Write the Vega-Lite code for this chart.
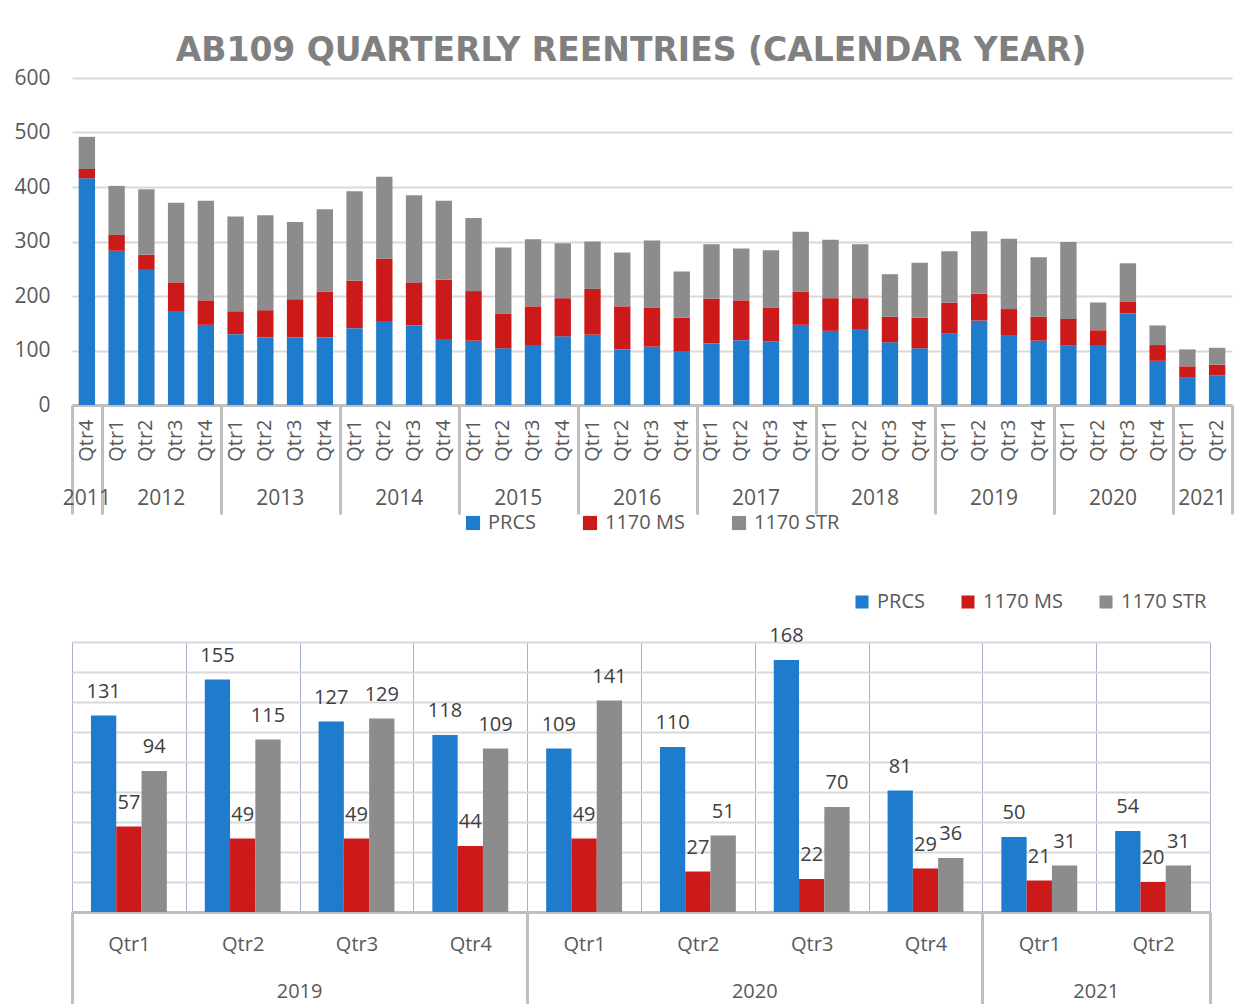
{
  "$schema": "https://vega.github.io/schema/vega-lite/v6.json",
  "background": "white",
  "padding": {"left": 13, "top": 35, "right": 5, "bottom": 0},
  "spacing": 59,
  "config": {
    "font": "Open Sans",
    "view": {"stroke": null},
    "axis": {"labelFont": "Open Sans", "labelColor": "#595959", "title": null}
  },
  "datasets": {
    "series": [
      {"s": "PRCS", "k": 1}, {"s": "1170 MS", "k": 2}, {"s": "1170 STR", "k": 3}
    ],
    "quarters": [
      {"q": "2011 Qtr4", "s": "PRCS", "v": 416}, {"q": "2011 Qtr4", "s": "1170 MS", "v": 17}, {"q": "2011 Qtr4", "s": "1170 STR", "v": 59},
      {"q": "2012 Qtr1", "s": "PRCS", "v": 283}, {"q": "2012 Qtr1", "s": "1170 MS", "v": 29}, {"q": "2012 Qtr1", "s": "1170 STR", "v": 90},
      {"q": "2012 Qtr2", "s": "PRCS", "v": 248}, {"q": "2012 Qtr2", "s": "1170 MS", "v": 28}, {"q": "2012 Qtr2", "s": "1170 STR", "v": 120},
      {"q": "2012 Qtr3", "s": "PRCS", "v": 171}, {"q": "2012 Qtr3", "s": "1170 MS", "v": 54}, {"q": "2012 Qtr3", "s": "1170 STR", "v": 146},
      {"q": "2012 Qtr4", "s": "PRCS", "v": 147}, {"q": "2012 Qtr4", "s": "1170 MS", "v": 45}, {"q": "2012 Qtr4", "s": "1170 STR", "v": 183},
      {"q": "2013 Qtr1", "s": "PRCS", "v": 130}, {"q": "2013 Qtr1", "s": "1170 MS", "v": 42}, {"q": "2013 Qtr1", "s": "1170 STR", "v": 174},
      {"q": "2013 Qtr2", "s": "PRCS", "v": 124}, {"q": "2013 Qtr2", "s": "1170 MS", "v": 50}, {"q": "2013 Qtr2", "s": "1170 STR", "v": 174},
      {"q": "2013 Qtr3", "s": "PRCS", "v": 124}, {"q": "2013 Qtr3", "s": "1170 MS", "v": 70}, {"q": "2013 Qtr3", "s": "1170 STR", "v": 142},
      {"q": "2013 Qtr4", "s": "PRCS", "v": 124}, {"q": "2013 Qtr4", "s": "1170 MS", "v": 84}, {"q": "2013 Qtr4", "s": "1170 STR", "v": 151},
      {"q": "2014 Qtr1", "s": "PRCS", "v": 141}, {"q": "2014 Qtr1", "s": "1170 MS", "v": 87}, {"q": "2014 Qtr1", "s": "1170 STR", "v": 164},
      {"q": "2014 Qtr2", "s": "PRCS", "v": 154}, {"q": "2014 Qtr2", "s": "1170 MS", "v": 115}, {"q": "2014 Qtr2", "s": "1170 STR", "v": 150},
      {"q": "2014 Qtr3", "s": "PRCS", "v": 146}, {"q": "2014 Qtr3", "s": "1170 MS", "v": 79}, {"q": "2014 Qtr3", "s": "1170 STR", "v": 160},
      {"q": "2014 Qtr4", "s": "PRCS", "v": 121}, {"q": "2014 Qtr4", "s": "1170 MS", "v": 109}, {"q": "2014 Qtr4", "s": "1170 STR", "v": 145},
      {"q": "2015 Qtr1", "s": "PRCS", "v": 118}, {"q": "2015 Qtr1", "s": "1170 MS", "v": 91}, {"q": "2015 Qtr1", "s": "1170 STR", "v": 134},
      {"q": "2015 Qtr2", "s": "PRCS", "v": 104}, {"q": "2015 Qtr2", "s": "1170 MS", "v": 64}, {"q": "2015 Qtr2", "s": "1170 STR", "v": 121},
      {"q": "2015 Qtr3", "s": "PRCS", "v": 110}, {"q": "2015 Qtr3", "s": "1170 MS", "v": 71}, {"q": "2015 Qtr3", "s": "1170 STR", "v": 123},
      {"q": "2015 Qtr4", "s": "PRCS", "v": 126}, {"q": "2015 Qtr4", "s": "1170 MS", "v": 70}, {"q": "2015 Qtr4", "s": "1170 STR", "v": 101},
      {"q": "2016 Qtr1", "s": "PRCS", "v": 129}, {"q": "2016 Qtr1", "s": "1170 MS", "v": 84}, {"q": "2016 Qtr1", "s": "1170 STR", "v": 87},
      {"q": "2016 Qtr2", "s": "PRCS", "v": 102}, {"q": "2016 Qtr2", "s": "1170 MS", "v": 79}, {"q": "2016 Qtr2", "s": "1170 STR", "v": 99},
      {"q": "2016 Qtr3", "s": "PRCS", "v": 107}, {"q": "2016 Qtr3", "s": "1170 MS", "v": 72}, {"q": "2016 Qtr3", "s": "1170 STR", "v": 123},
      {"q": "2016 Qtr4", "s": "PRCS", "v": 99}, {"q": "2016 Qtr4", "s": "1170 MS", "v": 61}, {"q": "2016 Qtr4", "s": "1170 STR", "v": 85},
      {"q": "2017 Qtr1", "s": "PRCS", "v": 113}, {"q": "2017 Qtr1", "s": "1170 MS", "v": 82}, {"q": "2017 Qtr1", "s": "1170 STR", "v": 100},
      {"q": "2017 Qtr2", "s": "PRCS", "v": 119}, {"q": "2017 Qtr2", "s": "1170 MS", "v": 73}, {"q": "2017 Qtr2", "s": "1170 STR", "v": 95},
      {"q": "2017 Qtr3", "s": "PRCS", "v": 117}, {"q": "2017 Qtr3", "s": "1170 MS", "v": 62}, {"q": "2017 Qtr3", "s": "1170 STR", "v": 105},
      {"q": "2017 Qtr4", "s": "PRCS", "v": 147}, {"q": "2017 Qtr4", "s": "1170 MS", "v": 61}, {"q": "2017 Qtr4", "s": "1170 STR", "v": 110},
      {"q": "2018 Qtr1", "s": "PRCS", "v": 136}, {"q": "2018 Qtr1", "s": "1170 MS", "v": 60}, {"q": "2018 Qtr1", "s": "1170 STR", "v": 107},
      {"q": "2018 Qtr2", "s": "PRCS", "v": 138}, {"q": "2018 Qtr2", "s": "1170 MS", "v": 58}, {"q": "2018 Qtr2", "s": "1170 STR", "v": 99},
      {"q": "2018 Qtr3", "s": "PRCS", "v": 115}, {"q": "2018 Qtr3", "s": "1170 MS", "v": 47}, {"q": "2018 Qtr3", "s": "1170 STR", "v": 78},
      {"q": "2018 Qtr4", "s": "PRCS", "v": 104}, {"q": "2018 Qtr4", "s": "1170 MS", "v": 56}, {"q": "2018 Qtr4", "s": "1170 STR", "v": 101},
      {"q": "2019 Qtr1", "s": "PRCS", "v": 131}, {"q": "2019 Qtr1", "s": "1170 MS", "v": 57}, {"q": "2019 Qtr1", "s": "1170 STR", "v": 94},
      {"q": "2019 Qtr2", "s": "PRCS", "v": 155}, {"q": "2019 Qtr2", "s": "1170 MS", "v": 49}, {"q": "2019 Qtr2", "s": "1170 STR", "v": 115},
      {"q": "2019 Qtr3", "s": "PRCS", "v": 127}, {"q": "2019 Qtr3", "s": "1170 MS", "v": 49}, {"q": "2019 Qtr3", "s": "1170 STR", "v": 129},
      {"q": "2019 Qtr4", "s": "PRCS", "v": 118}, {"q": "2019 Qtr4", "s": "1170 MS", "v": 44}, {"q": "2019 Qtr4", "s": "1170 STR", "v": 109},
      {"q": "2020 Qtr1", "s": "PRCS", "v": 109}, {"q": "2020 Qtr1", "s": "1170 MS", "v": 49}, {"q": "2020 Qtr1", "s": "1170 STR", "v": 141},
      {"q": "2020 Qtr2", "s": "PRCS", "v": 110}, {"q": "2020 Qtr2", "s": "1170 MS", "v": 27}, {"q": "2020 Qtr2", "s": "1170 STR", "v": 51},
      {"q": "2020 Qtr3", "s": "PRCS", "v": 168}, {"q": "2020 Qtr3", "s": "1170 MS", "v": 22}, {"q": "2020 Qtr3", "s": "1170 STR", "v": 70},
      {"q": "2020 Qtr4", "s": "PRCS", "v": 81}, {"q": "2020 Qtr4", "s": "1170 MS", "v": 29}, {"q": "2020 Qtr4", "s": "1170 STR", "v": 36},
      {"q": "2021 Qtr1", "s": "PRCS", "v": 50}, {"q": "2021 Qtr1", "s": "1170 MS", "v": 21}, {"q": "2021 Qtr1", "s": "1170 STR", "v": 31},
      {"q": "2021 Qtr2", "s": "PRCS", "v": 54}, {"q": "2021 Qtr2", "s": "1170 MS", "v": 20}, {"q": "2021 Qtr2", "s": "1170 STR", "v": 31}
    ]
  },
  "resolve": {"scale": {"color": "independent"}, "legend": {"color": "independent"}},
  "vconcat": [
    {
      "width": 1160,
      "height": 327,
      "title": {
        "text": "AB109 QUARTERLY REENTRIES (CALENDAR YEAR)",
        "font": "DejaVu Sans",
        "fontSize": 33,
        "fontWeight": "bold",
        "color": "#808080",
        "anchor": "middle",
        "frame": "group",
        "dx": -21,
        "baseline": "alphabetic",
        "offset": -27
      },
      "data": {"name": "quarters"},
      "transform": [{"lookup": "s", "from": {"data": {"name": "series"}, "key": "s", "fields": ["k"]}}],
      "layer": [
        {
          "mark": {"type": "bar", "width": {"band": 0.55}},
          "encoding": {
            "x": {
              "field": "q", "type": "nominal", "sort": null,
              "scale": {"paddingInner": 0, "paddingOuter": 0},
              "axis": {
                "orient": "bottom",
                "labelExpr": "isString(datum.value) ? substring(datum.value, 5) : ''",
                "labelAngle": -90, "labelAlign": "right", "labelBaseline": "middle",
                "labelPadding": 14, "labelFontSize": 20, "labelOverlap": false,
                "ticks": false, "domainColor": "#bfbfbf", "domainWidth": 3
              }
            },
            "y": {
              "field": "v", "type": "quantitative", "stack": "zero",
              "scale": {"domain": [0, 600]},
              "axis": {
                "values": [0, 100, 200, 300, 400, 500, 600], "tickCount": 20,
                "grid": true, "gridColor": "#d9d9d9", "gridWidth": 2,
                "domain": false, "ticks": false,
                "labelFontSize": 21, "labelPadding": 22
              }
            },
            "order": {"field": "k", "type": "quantitative", "sort": "ascending"},
            "color": {
              "field": "s", "type": "nominal",
              "sort": ["PRCS", "1170 MS", "1170 STR"],
              "scale": {"domain": ["PRCS", "1170 MS", "1170 STR"], "range": ["#1f7ccc", "#cc1a1a", "#8c8c8c"]},
              "legend": {
                "title": null, "orient": "none", "legendX": 391, "legendY": 435,
                "direction": "horizontal", "labelFontSize": 20, "labelColor": "#595959",
                "labelFont": "Open Sans", "symbolType": "square", "symbolSize": 200,
                "symbolStrokeWidth": 0, "columnPadding": 44, "labelOffset": 5
              }
            }
          }
        },
        {
          "mark": {"type": "point", "opacity": 0},
          "encoding": {
            "x": {
              "field": "q", "type": "nominal", "sort": null,
              "axis": {
                "orient": "bottom",
                "labels": false, "domain": false,
                "values": ["2011 Qtr4", "2012 Qtr4", "2013 Qtr4", "2014 Qtr4", "2015 Qtr4", "2016 Qtr4", "2017 Qtr4", "2018 Qtr4", "2019 Qtr4", "2020 Qtr4", "2021 Qtr2"],
                "tickBand": "extent", "tickSize": 109, "tickWidth": 3, "tickColor": "#bfbfbf"
              }
            },
            "y": {"field": "v", "type": "quantitative"}
          }
        },
        {
          "mark": {"type": "point", "opacity": 0},
          "encoding": {
            "x": {
              "field": "q", "type": "nominal", "sort": null,
              "axis": {
                "orient": "bottom",
                "ticks": false, "domain": false, "labelAngle": 0,
                "values": ["2011 Qtr4", "2012 Qtr2", "2013 Qtr2", "2014 Qtr2", "2015 Qtr2", "2016 Qtr2", "2017 Qtr2", "2018 Qtr2", "2019 Qtr2", "2020 Qtr2", "2021 Qtr1"],
                "labelExpr": "isString(datum.value) ? substring(datum.value, 0, 4) : ''",
                "labelOffset": {"condition": {"test": "datum.value == '2011 Qtr4'", "value": 0}, "value": 14.87},
                "labelPadding": 82, "labelFontSize": 21, "labelOverlap": false, "labelBaseline": "top"
              }
            },
            "y": {"field": "v", "type": "quantitative"}
          }
        }
      ],
      "resolve": {"axis": {"x": "independent"}}
    },
    {
      "width": 1138,
      "height": 270,
      "data": {"name": "quarters"},
      "transform": [{"filter": "datum.q >= '2019'"}],
      "layer": [
        {
          "mark": {"type": "bar"},
          "encoding": {
            "x": {
              "field": "q", "type": "nominal", "sort": null,
              "scale": {"paddingInner": 0, "paddingOuter": 0},
              "axis": {
                "orient": "bottom",
                "labelExpr": "isString(datum.value) ? substring(datum.value, 5) : ''",
                "labelAngle": 0,
                "labelPadding": 22, "labelFontSize": 20,
                "ticks": false, "domainColor": "#bfbfbf", "domainWidth": 3,
                "grid": true, "tickBand": "extent", "gridColor": "#a5b3c9", "gridWidth": 1
              }
            },
            "xOffset": {
              "field": "s", "type": "nominal", "sort": ["PRCS", "1170 MS", "1170 STR"],
              "scale": {"paddingInner": 0, "paddingOuter": 0.75}
            },
            "y": {
              "field": "v", "type": "quantitative",
              "scale": {"domain": [0, 180]},
              "axis": {
                "values": [0, 20, 40, 60, 80, 100, 120, 140, 160, 180], "tickCount": 20,
                "grid": true, "gridColor": "#d9d9d9", "gridWidth": 2,
                "labels": false, "domain": false, "ticks": false
              }
            },
            "color": {
              "field": "s", "type": "nominal",
              "sort": ["PRCS", "1170 MS", "1170 STR"],
              "scale": {"domain": ["PRCS", "1170 MS", "1170 STR"], "range": ["#1f7ccc", "#cc1a1a", "#8c8c8c"]},
              "legend": {
                "title": null, "orient": "none", "legendX": 780, "legendY": -50,
                "direction": "horizontal", "labelFontSize": 20, "labelColor": "#595959",
                "labelFont": "Open Sans", "symbolType": "square", "symbolSize": 170,
                "symbolStrokeWidth": 0, "columnPadding": 33, "labelOffset": 5
              }
            }
          }
        },
        {
          "mark": {"type": "text", "baseline": "bottom", "dy": -14, "fontSize": 20, "color": "#404040", "font": "Open Sans"},
          "encoding": {
            "x": {"field": "q", "type": "nominal", "sort": null, "axis": null},
            "xOffset": {"field": "s", "type": "nominal", "sort": ["PRCS", "1170 MS", "1170 STR"]},
            "y": {"field": "v", "type": "quantitative"},
            "text": {"field": "v", "type": "quantitative"}
          }
        },
        {
          "mark": {"type": "point", "opacity": 0},
          "encoding": {
            "x": {
              "field": "q", "type": "nominal", "sort": null,
              "axis": {
                "orient": "bottom",
                "labels": false, "domain": false, "grid": false,
                "values": ["2019 Qtr1", "2019 Qtr4", "2020 Qtr4", "2021 Qtr2"],
                "tickBand": "extent", "tickSize": 95, "tickWidth": 3, "tickColor": "#bfbfbf",
                "tickOpacity": {"condition": {"test": "datum.value == '2019 Qtr1'", "value": 0}, "value": 1}
              }
            },
            "y": {"field": "v", "type": "quantitative"}
          }
        },
        {
          "mark": {"type": "point", "opacity": 0},
          "encoding": {
            "x": {
              "field": "q", "type": "nominal", "sort": null,
              "axis": {
                "orient": "bottom",
                "ticks": false, "domain": false, "grid": false, "labelAngle": 0,
                "values": ["2019 Qtr2", "2020 Qtr2", "2021 Qtr1"],
                "labelExpr": "isString(datum.value) ? substring(datum.value, 0, 4) : ''",
                "labelOffset": 56.9, "labelPadding": 69, "labelFontSize": 20, "labelBaseline": "top"
              }
            },
            "y": {"field": "v", "type": "quantitative"}
          }
        }
      ],
      "resolve": {"axis": {"x": "independent"}}
    }
  ]
}
